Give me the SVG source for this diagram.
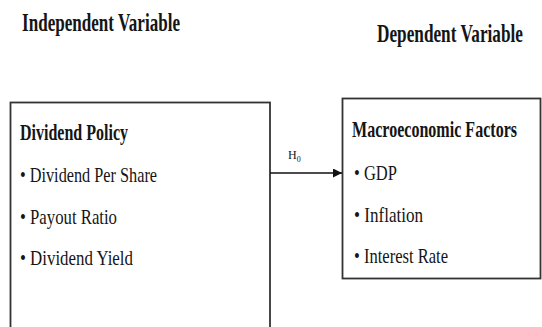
<svg xmlns="http://www.w3.org/2000/svg" width="542" height="327" viewBox="0 0 542 327">
<defs>
<style>
.t{font-family:"Liberation Serif","Times New Roman",serif;fill:#151515}
.h{font-weight:bold;font-size:26px}
.bh{font-weight:bold;font-size:23px}
.it{font-size:22px}
.box{fill:#fff;stroke:#333;stroke-width:1.8}
.conn{stroke:#111;stroke-width:1.5;fill:none}
</style>
<marker id="ah" viewBox="0 0 10 10" refX="10" refY="5" markerWidth="9" markerHeight="9" markerUnits="userSpaceOnUse" orient="auto">
<path d="M0,0 L10,5 L0,10 z" fill="#111"/>
</marker>
</defs>
<rect width="542" height="327" fill="#fff"/>
<g id="heading-independent">
<text class="t h" transform="scale(0.66,1)" x="33.33" y="31" textLength="239.4" lengthAdjust="spacingAndGlyphs">Independent Variable</text>
</g>
<g id="heading-dependent">
<text class="t h" transform="scale(0.66,1)" x="571.2" y="42" textLength="221.2" lengthAdjust="spacingAndGlyphs">Dependent Variable</text>
</g>
<g id="node-dividend-policy">
<rect class="box" x="10.5" y="102.5" width="259.5" height="240"/>
<g transform="scale(0.72,1)">
<text class="t bh" x="27.78" y="140" textLength="150" lengthAdjust="spacingAndGlyphs">Dividend Policy</text>
<text class="t it" x="27.78" y="182" textLength="190.3" lengthAdjust="spacingAndGlyphs">• Dividend Per Share</text>
<text class="t it" x="27.78" y="224" textLength="134.7" lengthAdjust="spacingAndGlyphs">• Payout Ratio</text>
<text class="t it" x="27.78" y="265" textLength="156.9" lengthAdjust="spacingAndGlyphs">• Dividend Yield</text>
</g>
</g>
<g id="node-macroeconomic-factors">
<rect class="box" x="342.5" y="98.5" width="198" height="180"/>
<g transform="scale(0.72,1)">
<text class="t bh" x="488.9" y="137" textLength="229.2" lengthAdjust="spacingAndGlyphs">Macroeconomic Factors</text>
<text class="t it" x="491.7" y="180" textLength="59.7" lengthAdjust="spacingAndGlyphs">• GDP</text>
<text class="t it" x="491.7" y="222" textLength="95.8" lengthAdjust="spacingAndGlyphs">• Inflation</text>
<text class="t it" x="491.7" y="263" textLength="130.6" lengthAdjust="spacingAndGlyphs">• Interest Rate</text>
</g>
</g>
<g id="connectors">
<line class="conn" x1="270" y1="173" x2="342" y2="173" marker-end="url(#ah)"/>
<text class="t" x="288" y="159" font-size="12">H<tspan font-size="8" dy="3">0</tspan></text>
</g>
</svg>
